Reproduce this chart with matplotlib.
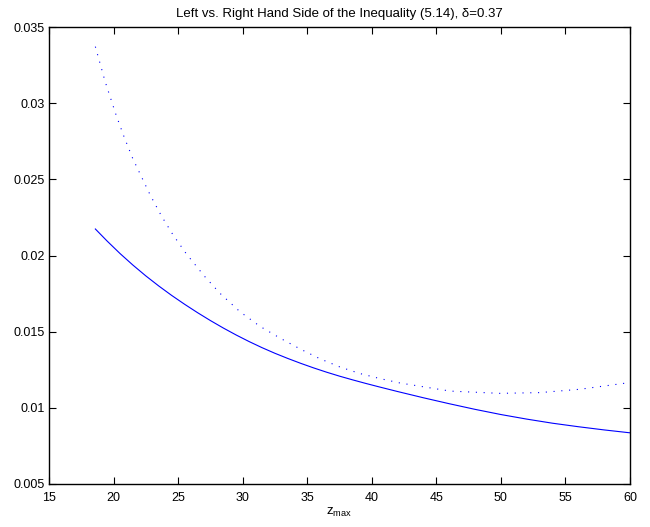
import matplotlib
matplotlib.use('Agg')
import matplotlib.pyplot as plt

plt.rcParams['font.family'] = ['Liberation Sans', 'DejaVu Sans']

# values (left hand side, solid)
z_left = [18.59, 19.5, 20.5, 21.5, 22.5, 23.5, 24.5, 25.5, 26.5, 27.5, 28.5,
          29.5, 30.5, 31.5, 32.5, 33.5, 34.5, 35.5, 36.5, 37.5, 38.5, 39.5,
          40.5, 42, 44, 46, 48, 50, 52, 54, 56, 58, 60]
lhs = [0.02174, 0.02095, 0.02013, 0.01937, 0.01866, 0.01800, 0.01738, 0.01680,
       0.01625, 0.01573, 0.01524, 0.01478, 0.01435, 0.01395, 0.01358, 0.01324,
       0.01292, 0.01262, 0.01234, 0.01208, 0.01184, 0.01161, 0.01139, 0.01107,
       0.01066, 0.01027, 0.00990, 0.00956, 0.00926, 0.00899, 0.00876, 0.00855,
       0.00836]

# right hand side, dotted
z_right = [18.59, 19.34, 20.19, 20.81, 21.48, 22.07, 22.85, 23.70, 24.58, 25.61,
           27.03, 28.24, 29.79, 31.34, 32.89, 34.44, 35.99, 37.54, 39.09, 40.64,
           42.19, 46.06, 49.93, 53.03, 56.13, 60.00]
rhs = [0.03371, 0.03144, 0.02924, 0.02780, 0.02638, 0.02533, 0.02395, 0.02261,
       0.02139, 0.02014, 0.01865, 0.01752, 0.01631, 0.01535, 0.01458, 0.01387,
       0.01322, 0.01268, 0.01225, 0.01192, 0.01163, 0.01110, 0.01095, 0.01100,
       0.01122, 0.01166]

xticks = [15, 20, 25, 30, 35, 40, 45, 50, 55, 60]
yticks = [0.005, 0.01, 0.015, 0.02, 0.025, 0.03, 0.035]
ytick_labels = ['0.005', '0.01', '0.015', '0.02', '0.025', '0.03', '0.035']

fig = plt.figure(figsize=(6.5, 5.27), dpi=100)
ax = fig.add_axes([49 / 650, 1 - 484 / 527, 581 / 650, 457 / 527])

ax.plot(z_left, lhs, color='blue', linewidth=0.8)
ax.plot(z_right, rhs, color='blue', linewidth=0.8, linestyle=(0, (1, 6)))

ax.set_xlim(15, 60)
ax.set_ylim(0.005, 0.035)
ax.set_xticks(xticks)
ax.set_xticklabels([str(t) for t in xticks])
ax.set_yticks(yticks)
ax.set_yticklabels(ytick_labels)
ax.tick_params(direction='in', top=True, right=True, length=5, width=0.8,
               labelsize=9, pad=3)
ax.tick_params(axis='x', pad=6)
for s in ax.spines.values():
    s.set_linewidth(1.0)

ax.set_title('Left vs. Right Hand Side of the Inequality (5.14), δ=0.37',
             fontsize=9.5, pad=7)
ax.set_xlabel('z$_{\\mathregular{max}}$', fontsize=9.5, labelpad=1)

fig.savefig('out.png', dpi=100)
